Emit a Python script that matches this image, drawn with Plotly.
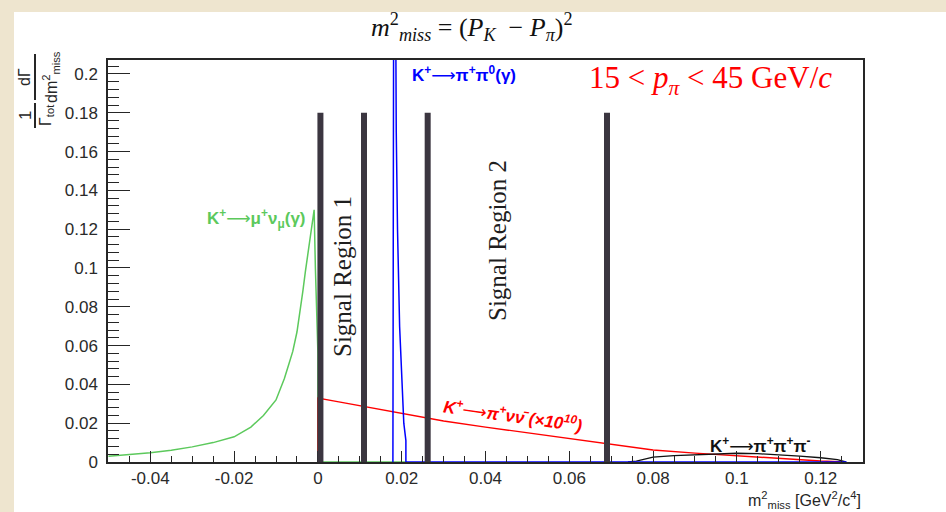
import plotly.graph_objects as go

# ---- data: normalised m^2_miss spectra, 15 < p_pi < 45 GeV/c ----
# K+ -> mu+ nu (gamma)
kmu2_x = [-0.0500, -0.045, -0.040, -0.035, -0.030, -0.025, -0.020, -0.016, -0.013,
          -0.010, -0.008, -0.007, -0.006, -0.005, -0.0042, -0.0036, -0.0030, -0.0024,
          -0.0018, -0.0013, -0.0009, -0.0006, -0.0003, 0.0, 0.0, 0.021]
kmu2_y = [0.0030, 0.0038, 0.0048, 0.0060, 0.0078, 0.0100, 0.0130, 0.0180, 0.0240,
          0.0320, 0.0430, 0.0500, 0.0570, 0.0670, 0.0780, 0.0880, 0.0980, 0.1070,
          0.1170, 0.1250, 0.1300, 0.1000, 0.0750, 0.0560, 0.0, 0.0]

# K+ -> pi+ pi0 (gamma)
k2pi_x = [0.0179, 0.0180, 0.0182, 0.0187, 0.0190, 0.0195, 0.0200, 0.0205, 0.0210, 0.0210, 0.1262]
k2pi_y = [0.0, 0.12, 0.40, 0.17, 0.12, 0.07, 0.040, 0.020, 0.011, 0.0, 0.0]

# K+ -> pi+ nu nubar (x 1e10)
pinn_x = [0.0, 0.0, 0.005, 0.010, 0.015, 0.020, 0.025, 0.030, 0.040, 0.050, 0.060,
          0.070, 0.080, 0.090, 0.100, 0.110, 0.120, 0.1258]
pinn_y = [0.0, 0.0330, 0.0310, 0.0290, 0.0270, 0.0250, 0.0228, 0.0211, 0.0180, 0.0150,
          0.0121, 0.0091, 0.0062, 0.0046, 0.0032, 0.0017, 0.0005, 0.0]

# K+ -> pi+ pi+ pi-
k3pi_x = [0.074, 0.076, 0.078, 0.080, 0.085, 0.090, 0.095, 0.100, 0.105, 0.110,
          0.115, 0.120, 0.124, 0.126]
k3pi_y = [0.0, 0.0005, 0.0015, 0.0025, 0.0033, 0.0038, 0.0042, 0.0045, 0.0043,
          0.0038, 0.0030, 0.0022, 0.0012, 0.0]

# signal-region boundaries in m^2_miss
region_edges = [0.0006, 0.011, 0.0262, 0.069]
region_top = 0.18

x_tickvals = [-0.04, -0.02, 0.0, 0.02, 0.04, 0.06, 0.08, 0.10, 0.12]
x_ticktext = ["-0.04", "-0.02", "0", "0.02", "0.04", "0.06", "0.08", "0.1", "0.12"]
y_tickvals = [0.0, 0.02, 0.04, 0.06, 0.08, 0.10, 0.12, 0.14, 0.16, 0.18, 0.20]
y_ticktext = ["0", "0.02", "0.04", "0.06", "0.08", "0.1", "0.12", "0.14", "0.16", "0.18", "0.2"]

# ---- page geometry (pixels) ----
W, H = 946, 512
L, R, T, B = 108, 863, 60, 462


def px(x):
    return (x - L) / (R - L)


def py(y):
    return (B - y) / (B - T)


GREEN = "#5cc95c"
BLUE = "#0000ff"
RED = "#ff0000"
INK = "#262626"
BAR = "#3b3640"
SANS = "Liberation Sans, Arial, sans-serif"
SERIF = "Liberation Serif, Times New Roman, serif"
ARROW = '<span style="font-family:DejaVu Sans;font-weight:normal">⟶</span>'

fig = go.Figure()
fig.add_trace(go.Scatter(x=kmu2_x, y=kmu2_y, mode="lines", line=dict(color=GREEN, width=1.5)))
fig.add_trace(go.Scatter(x=pinn_x, y=pinn_y, mode="lines", line=dict(color=RED, width=1.4)))
fig.add_trace(go.Scatter(x=k3pi_x, y=k3pi_y, mode="lines", line=dict(color="#111111", width=1.3)))
fig.add_trace(go.Scatter(x=k2pi_x, y=k2pi_y, mode="lines", line=dict(color=BLUE, width=1.5)))

shapes = []
# page background strips
shapes.append(dict(type="rect", xref="paper", yref="paper", x0=px(0), x1=px(14), y0=py(H), y1=py(0),
                   fillcolor="#eee5cf", line=dict(width=0), layer="below"))
shapes.append(dict(type="rect", xref="paper", yref="paper", x0=px(0), x1=px(W), y0=py(12), y1=py(0),
                   fillcolor="#eee5cf", line=dict(width=0), layer="below"))
# signal-region boundary bars
for e in region_edges:
    shapes.append(dict(type="line", xref="x", yref="y", x0=e, x1=e, y0=0, y1=region_top,
                       line=dict(color=BAR, width=6)))
# fraction bars of the y-axis title
shapes.append(dict(type="line", xref="paper", yref="paper", x0=px(35), x1=px(35), y0=py(128), y1=py(103),
                   line=dict(color=INK, width=2)))
shapes.append(dict(type="line", xref="paper", yref="paper", x0=px(35), x1=px(35), y0=py(100), y1=py(54),
                   line=dict(color=INK, width=2)))

ann = []


def note(text, x, y, size, color=INK, family=SANS, angle=0, xanchor="center", yanchor="middle", ref="paper"):
    ann.append(dict(text=text, x=x, y=y, xref=ref, yref=ref, showarrow=False, textangle=angle,
                    xanchor=xanchor, yanchor=yanchor, font=dict(size=size, color=color, family=family)))


# title
note("<i>m</i><sup>2</sup><sub><i>miss</i></sub> = (<i>P</i><sub><i>K</i></sub>  − <i>P</i><sub><i>π</i></sub>)<sup>2</sup>",
     px(472), py(27), 26, color="#111111", family=SERIF)
# momentum range
note("15 < <i>p</i><sub><i>π</i></sub> < 45 GeV/<i>c</i>", px(710), py(80), 31, color=RED, family=SERIF)

# y-axis title (rotated fractions)
note("1", px(25), py(116), 17, angle=-90)
note("Γ<sub>tot</sub>", px(46), py(115), 16, angle=-90)
note("dΓ", px(25), py(77), 16, angle=-90)
note("dm<sup>2</sup><sub>miss</sub>", px(51), py(77), 16, angle=-90)

# x-axis title
note("m<sup>2</sup><sub>miss</sub> [GeV<sup>2</sup>/c<sup>4</sup>]", px(863), py(500), 16, xanchor="right")

# signal regions
note("Signal Region 1", px(342), py(277), 25, color="#1e1e1e", family=SERIF, angle=-90)
note("Signal Region 2", px(497), py(241), 25, color="#1e1e1e", family=SERIF, angle=-90)

# channel labels
note("<b>K<sup>+</sup>" + ARROW + "μ<sup>+</sup>ν<sub>μ</sub>(γ)</b>", -0.0024, 0.1253, 17, color=GREEN,
     xanchor="right", ref="data")
note("<b>K<sup>+</sup>" + ARROW + "π<sup>+</sup>π<sup>0</sup>(γ)</b>", 0.0220, 0.2000, 17, color=BLUE,
     xanchor="left", ref="data")
note("<b><i>K<sup>+</sup>" + ARROW + "π<sup>+</sup>νν̄ (×10<sup>10</sup>)</i></b>", 0.0465, 0.0240, 17, color=RED,
     angle=8, ref="data")
note("<b>K<sup>+</sup>" + ARROW + "π<sup>+</sup>π<sup>+</sup>π<sup>-</sup></b>", 0.0931, 0.0090, 17, color="#111111",
     xanchor="left", ref="data")

for a in ann:
    if a["xref"] == "data":
        a["xref"], a["yref"] = "x", "y"

axis_common = dict(showgrid=False, zeroline=False, showline=True, linecolor=INK, linewidth=1.5,
                   mirror=True, ticks="inside", tickcolor=INK, tickwidth=1.2,
                   tickfont=dict(family=SANS, size=17, color="#2a2a2a"))

fig.update_layout(
    width=W, height=H,
    margin=dict(l=L, r=W - R, t=T, b=H - B),
    paper_bgcolor="white", plot_bgcolor="white",
    showlegend=False,
    shapes=shapes, annotations=ann,
    xaxis=dict(range=[-0.0501, 0.1301], tickmode="array", tickvals=x_tickvals, ticktext=x_ticktext,
               ticklen=11, ticklabelstandoff=0,
               minor=dict(tickmode="linear", tick0=0, dtick=0.005, ticks="inside", ticklen=6,
                          tickcolor=INK, tickwidth=1.2, showgrid=False),
               **axis_common),
    yaxis=dict(range=[0, 0.2072], tickmode="array", tickvals=y_tickvals, ticktext=y_ticktext,
               ticklen=22, ticklabelstandoff=5,
               minor=dict(tickmode="linear", tick0=0, dtick=0.004, ticks="inside", ticklen=11,
                          tickcolor=INK, tickwidth=1.2, showgrid=False),
               **axis_common),
)

fig.write_html("out.html")
